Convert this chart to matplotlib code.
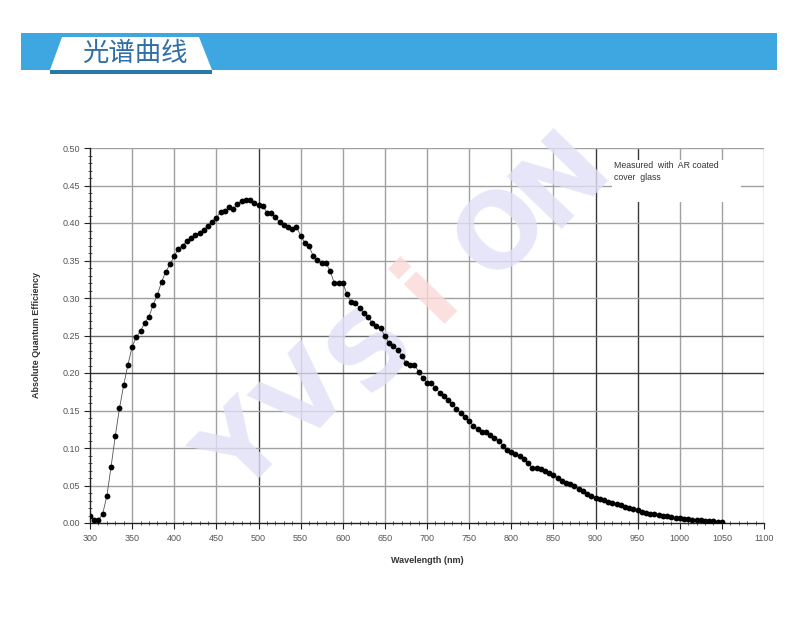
import matplotlib
matplotlib.use("Agg")
import matplotlib.pyplot as plt
from matplotlib.patches import Rectangle, Polygon
import numpy as np

title_text = "光谱曲线"
x_label = "Wavelength (nm)"
y_label = "Absolute Quantum Efficiency"
note_text = "Measured  with  AR coated\ncover  glass"
watermark = ["Y", "V", "S", "i", "O", "N"]

wavelength = list(range(300, 1055, 5))
qe = [0.010, 0.004, 0.004, 0.012, 0.036, 0.075, 0.116, 0.153, 0.184, 0.211,
      0.235, 0.248, 0.256, 0.267, 0.275, 0.291, 0.304, 0.322, 0.335, 0.345,
      0.356, 0.366, 0.370, 0.376, 0.380, 0.384, 0.387, 0.391, 0.396, 0.402,
      0.407, 0.415, 0.416, 0.421, 0.419, 0.425, 0.430, 0.431, 0.431, 0.427,
      0.424, 0.423, 0.414, 0.413, 0.408, 0.401, 0.398, 0.395, 0.392, 0.395,
      0.383, 0.374, 0.369, 0.356, 0.351, 0.347, 0.347, 0.336, 0.320, 0.320,
      0.320, 0.305, 0.295, 0.293, 0.287, 0.280, 0.275, 0.267, 0.263, 0.260,
      0.249, 0.240, 0.236, 0.231, 0.223, 0.214, 0.211, 0.211, 0.202, 0.193,
      0.187, 0.187, 0.180, 0.174, 0.170, 0.164, 0.159, 0.152, 0.147, 0.142,
      0.136, 0.130, 0.125, 0.122, 0.122, 0.117, 0.113, 0.110, 0.103, 0.098,
      0.095, 0.092, 0.089, 0.086, 0.080, 0.073, 0.073, 0.072, 0.070, 0.067,
      0.064, 0.060, 0.056, 0.053, 0.052, 0.049, 0.046, 0.043, 0.039, 0.036,
      0.034, 0.032, 0.031, 0.028, 0.027, 0.025, 0.024, 0.022, 0.020, 0.019,
      0.017, 0.015, 0.014, 0.012, 0.0116, 0.0107, 0.0098, 0.0089, 0.008, 0.007,
      0.0062, 0.0053, 0.0049, 0.0044, 0.0040, 0.0036, 0.0031, 0.0027, 0.0022, 0.0018,
      0.0013]

x_ticks = list(range(300, 1150, 50))
y_ticks = [0.00, 0.05, 0.10, 0.15, 0.20, 0.25, 0.30, 0.35, 0.40, 0.45, 0.50]

W, H = 800, 633
fig = plt.figure(figsize=(W / 100, H / 100), dpi=100)
fig.patch.set_facecolor("white")

def fx(px):
    return px / W

def fy(py):
    return 1 - py / H

# Header bar
fig.add_artist(Rectangle((fx(21), fy(70)), fx(777) - fx(21), fy(33) - fy(70),
                         transform=fig.transFigure, facecolor="#3ea6e0", edgecolor="none", zorder=0))
fig.add_artist(Polygon([(fx(50), fy(70)), (fx(62), fy(37)), (fx(199), fy(37)), (fx(212), fy(70))],
                       closed=True, transform=fig.transFigure, facecolor="white", edgecolor="none", zorder=1))
fig.add_artist(Rectangle((fx(50), fy(74)), fx(212) - fx(50), fy(70) - fy(74),
                         transform=fig.transFigure, facecolor="#2a78a8", edgecolor="none", zorder=1))
fig.text(fx(82), fy(53), title_text, fontsize=19, color="#2f6ea6", ha="left", va="center",
         family=["Noto Sans CJK SC", "DejaVu Sans"], zorder=2)

ax = fig.add_axes([fx(90), fy(523), fx(764) - fx(90), fy(148) - fy(523)])
ax.set_xlim(300, 1100)
ax.set_ylim(0, 0.5)
ax.set_facecolor("white")

# grid
for xv in x_ticks[1:]:
    c = "#3a3a3a" if xv in (500, 900, 950) else "#a0a0a0"
    ax.axvline(xv, color=c, lw=1.0, zorder=1)
for yv in y_ticks[1:]:
    c = "#3a3a3a" if yv in (0.20,) else ("#6a6a6a" if yv == 0.25 else "#a0a0a0")
    ax.axhline(yv, color=c, lw=1.0, zorder=1)

for s in ["top", "right"]:
    ax.spines[s].set_visible(False)
for s in ["left", "bottom"]:
    ax.spines[s].set_color("#222222")
    ax.spines[s].set_linewidth(1.0)

ax.set_xticks(x_ticks)
ax.set_xticklabels([str(v) for v in x_ticks])
ax.set_yticks(y_ticks)
ax.set_yticklabels([f"{v:.2f}" for v in y_ticks])
ax.set_xticks(list(range(300, 1101, 10)), minor=True)
ax.set_yticks(list(np.round(np.arange(0, 0.501, 0.01), 2)), minor=True)
ax.tick_params(axis="both", which="major", direction="out", length=4, width=0.8,
               color="#222222", labelsize=6.5, labelcolor="#555555")
ax.tick_params(axis="both", which="minor", direction="inout", length=3, width=0.6, color="#444444")
ax.tick_params(axis="x", pad=4)
ax.tick_params(axis="y", pad=3)
for lab in ax.get_xticklabels() + ax.get_yticklabels():
    lab.set_family("Liberation Sans")

ax.set_xlabel(x_label, fontsize=6.5, fontweight="bold", color="#333333", family="Liberation Sans", labelpad=9)
ax.set_ylabel(y_label, fontsize=6.5, fontweight="bold", color="#333333", family="Liberation Sans", labelpad=16)

# note box
ax.add_patch(Rectangle((920, 0.428), 153, 0.056, facecolor="white", edgecolor="none", zorder=2))
ax.text(922, 0.469, note_text, fontsize=6.3, color="#333333", ha="left", va="center",
        family="Liberation Sans", linespacing=1.45, zorder=6)

# watermark letters (figure layout positions), behind the data
wm_pos = [(245, 452), (308, 400), (372, 350), (428, 292), (503, 232), (562, 178)]
wm_col = ["#e0e0f7", "#e0e0f7", "#e0e0f7", "#fad8d8", "#e0e0f7", "#e0e0f7"]
for ch, (px, py), c in zip(watermark, wm_pos, wm_col):
    ax.text(fx(px), fy(py), ch, fontsize=74, fontweight="bold", color=c, alpha=0.8,
            rotation=46, ha="center", va="center", rotation_mode="anchor",
            family="DejaVu Sans", transform=fig.transFigure, clip_on=False, zorder=3)

ax.plot(wavelength, qe, color="#555555", lw=0.6, zorder=4)
ax.plot(wavelength, qe, "o", color="black", markersize=4.2, markeredgewidth=0, zorder=5)

fig.savefig("out.png", dpi=100, facecolor="white")
